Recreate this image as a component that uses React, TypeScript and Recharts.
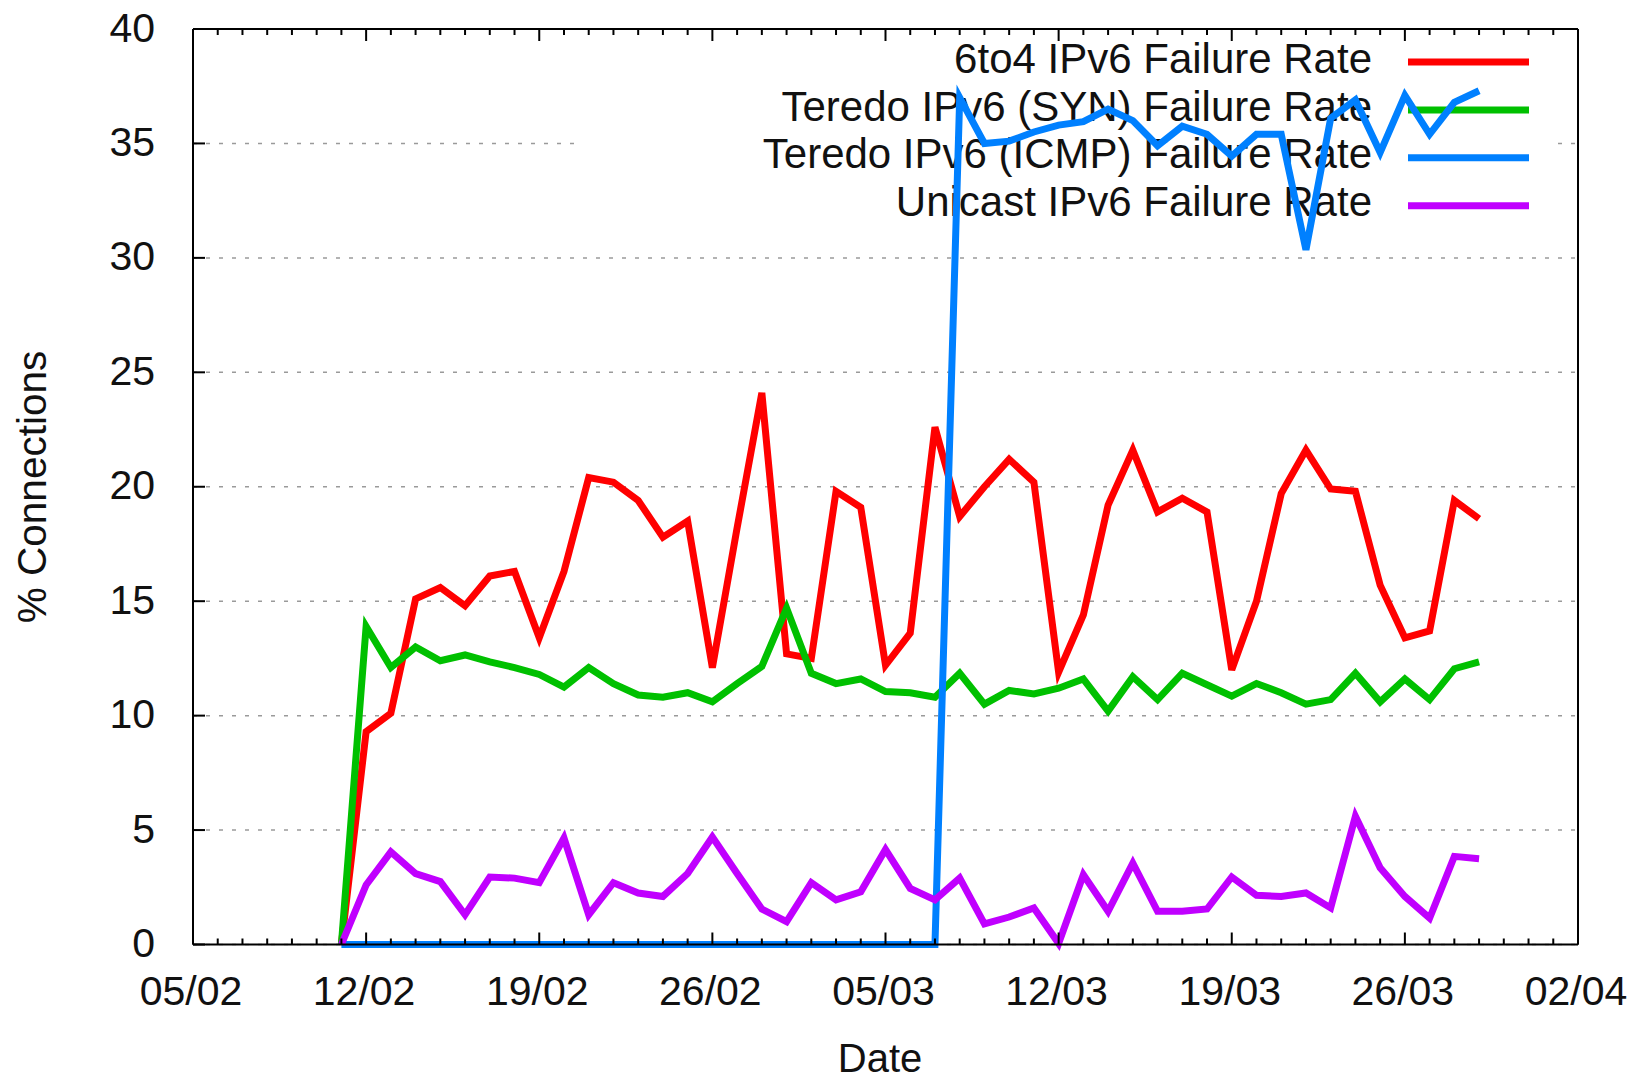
import React from "react";
import { CartesianGrid, Customized, Line, LineChart, XAxis, YAxis } from "recharts";

// one sample per day, 11/02 .. 29/03
const dates = [
  "11/02", "12/02", "13/02", "14/02", "15/02", "16/02", "17/02", "18/02", "19/02", "20/02",
  "21/02", "22/02", "23/02", "24/02", "25/02", "26/02", "27/02", "28/02", "01/03", "02/03",
  "03/03", "04/03", "05/03", "06/03", "07/03", "08/03", "09/03", "10/03", "11/03", "12/03",
  "13/03", "14/03", "15/03", "16/03", "17/03", "18/03", "19/03", "20/03", "21/03", "22/03",
  "23/03", "24/03", "25/03", "26/03", "27/03", "28/03", "29/03",
];

const sixToFour = [
  0, 9.3, 10.1, 15.1, 15.6, 14.8, 16.1, 16.3, 13.4, 16.3,
  20.4, 20.2, 19.4, 17.8, 18.5, 12.1, 18.2, 24.1, 12.7, 12.5,
  19.8, 19.1, 12.2, 13.6, 22.6, 18.7, 20.0, 21.2, 20.2, 11.9,
  14.4, 19.2, 21.6, 18.9, 19.5, 18.9, 12.0, 15.0, 19.7, 21.6,
  19.9, 19.8, 15.7, 13.4, 13.7, 19.4, 18.6,
];

const teredoSyn = [
  0, 13.9, 12.1, 13.0, 12.4, 12.65, 12.35, 12.1, 11.8, 11.25,
  12.1, 11.4, 10.9, 10.8, 11.0, 10.6, 11.4, 12.15, 14.7, 11.85,
  11.4, 11.6, 11.05, 11.0, 10.8, 11.85, 10.5, 11.1, 10.95, 11.2,
  11.6, 10.2, 11.7, 10.7, 11.85, 11.35, 10.85, 11.4, 11.0, 10.5,
  10.7, 11.85, 10.6, 11.6, 10.7, 12.05, 12.35,
];

const teredoIcmp = [
  0, 0, 0, 0, 0, 0, 0, 0, 0, 0,
  0, 0, 0, 0, 0, 0, 0, 0, 0, 0,
  0, 0, 0, 0, 0, 37.0, 35.0, 35.1, 35.5, 35.8,
  35.95, 36.5, 36.0, 34.9, 35.75, 35.4, 34.45, 35.4, 35.4, 30.35,
  36.1, 36.9, 34.6, 37.1, 35.4, 36.8, 37.3,
];

const unicast = [
  0, 2.6, 4.05, 3.1, 2.75, 1.3, 2.95, 2.9, 2.7, 4.65,
  1.3, 2.7, 2.25, 2.1, 3.1, 4.7, 3.1, 1.55, 1.0, 2.7,
  1.95, 2.3, 4.15, 2.45, 1.95, 2.9, 0.9, 1.2, 1.6, 0.05,
  3.05, 1.45, 3.55, 1.45, 1.45, 1.55, 2.95, 2.15, 2.1, 2.25,
  1.6, 5.6, 3.35, 2.1, 1.15, 3.85, 3.75,
];

const xTickLabels = ["05/02", "12/02", "19/02", "26/02", "05/03", "12/03", "19/03", "26/03", "02/04"];
const yTicks = [0, 5, 10, 15, 20, 25, 30, 35, 40];

const SERIES = [
  { key: "sixToFour", name: "6to4 IPv6 Failure Rate", color: "#ff0000" },
  { key: "teredoSyn", name: "Teredo IPv6 (SYN) Failure Rate", color: "#00c000" },
  { key: "teredoIcmp", name: "Teredo IPv6 (ICMP) Failure Rate", color: "#0080ff" },
  { key: "unicast", name: "Unicast IPv6 Failure Rate", color: "#c000ff" },
];

const FONT = "'Liberation Sans', Arial, sans-serif";

// days since 05/02 (2011, so February has 28 days)
function dayOf(label: string) {
  const [d, m] = label.split("/").map(Number);
  if (m === 2) return d - 5;
  if (m === 3) return d + 23;
  return d + 54;
}

const rows = dates.map((date, i) => ({
  day: dayOf(date),
  sixToFour: sixToFour[i],
  teredoSyn: teredoSyn[i],
  teredoIcmp: teredoIcmp[i],
  unicast: unicast[i],
}));

const majorDays = xTickLabels.map(dayOf);
const dayTicks = Array.from({ length: majorDays[majorDays.length - 1] + 1 }, (_, i) => i);

function BottomTick({ x, y, payload }: any) {
  const i = majorDays.indexOf(payload.value);
  return (
    <g>
      <line x1={x} x2={x} y1={y} y2={y - (i >= 0 ? 12 : 6)} stroke="#000" strokeWidth={2} />
      {i >= 0 && (
        <text x={x - 2} y={y + 60} textAnchor="middle" fontSize={41} fontFamily={FONT} fill="#111">
          {xTickLabels[i]}
        </text>
      )}
    </g>
  );
}

function TopTick({ x, y, payload }: any) {
  const major = majorDays.includes(payload.value);
  return <line x1={x} x2={x} y1={y} y2={y + (major ? 12 : 6)} stroke="#000" strokeWidth={2} />;
}

function LeftTick({ x, y, payload }: any) {
  return (
    <g>
      <line x1={x} x2={x + 12} y1={y} y2={y} stroke="#000" strokeWidth={2} />
      <text x={x - 38} y={y + 12.5} textAnchor="end" fontSize={41} fontFamily={FONT} fill="#111">
        {payload.value}
      </text>
    </g>
  );
}

function RightTick({ x, y }: any) {
  return <line x1={x} x2={x - 12} y1={y} y2={y} stroke="#000" strokeWidth={2} />;
}

// gnuplot-style key: blanks the grid behind it, lines still draw on top
function KeyAndTitles() {
  return (
    <g>
      <rect x={577} y={40} width={974} height={190} fill="#fff" />
      {SERIES.map((s, i) => (
        <g key={s.key}>
          <text x={1372} y={73 + i * 47.7} textAnchor="end" fontSize={42} fontFamily={FONT} fill="#111">
            {s.name}
          </text>
          <line x1={1408} x2={1529} y1={62 + i * 47.9} y2={62 + i * 47.9} stroke={s.color} strokeWidth={7} />
        </g>
      ))}
      <text x={880} y={1072} textAnchor="middle" fontSize={40} fontFamily={FONT} fill="#111">
        Date
      </text>
      <text
        x={46}
        y={487}
        transform="rotate(-90, 46, 487)"
        textAnchor="middle"
        fontSize={40.5}
        fontFamily={FONT}
        fill="#111"
      >
        % Connections
      </text>
    </g>
  );
}

export default function App() {
  const axisLine = { stroke: "#000", strokeWidth: 2 };
  return (
    <div style={{ position: "absolute", left: 0, top: 0, width: 1637, height: 1079, background: "#fff" }}>
      <LineChart width={1637} height={1079} data={rows} margin={{ top: 28, right: 58, bottom: 0, left: 0 }}>
        <CartesianGrid vertical={false} stroke="#9a9a9a" strokeWidth={1.5} strokeDasharray="4 9" />
        <XAxis
          dataKey="day"
          type="number"
          domain={[0, 56]}
          ticks={dayTicks}
          interval={0}
          height={134.5}
          tickSize={0}
          tickMargin={0}
          axisLine={axisLine}
          tick={<BottomTick />}
        />
        <XAxis
          xAxisId="top"
          orientation="top"
          dataKey="day"
          type="number"
          domain={[0, 56]}
          ticks={dayTicks}
          interval={0}
          height={1}
          tickSize={0}
          tickMargin={0}
          axisLine={axisLine}
          tick={<TopTick />}
        />
        <YAxis
          type="number"
          domain={[0, 40]}
          ticks={yTicks}
          interval={0}
          width={193}
          tickSize={0}
          tickMargin={0}
          axisLine={axisLine}
          tick={<LeftTick />}
        />
        <YAxis
          yAxisId="right"
          orientation="right"
          type="number"
          domain={[0, 40]}
          ticks={yTicks}
          interval={0}
          width={1}
          tickSize={0}
          tickMargin={0}
          axisLine={axisLine}
          tick={<RightTick />}
        />
        <Customized component={<KeyAndTitles />} />
        {SERIES.map((s) => (
          <Line
            key={s.key}
            type="linear"
            dataKey={s.key}
            name={s.name}
            stroke={s.color}
            strokeWidth={7}
            dot={false}
            activeDot={false}
            isAnimationActive={false}
          />
        ))}
      </LineChart>
    </div>
  );
}
